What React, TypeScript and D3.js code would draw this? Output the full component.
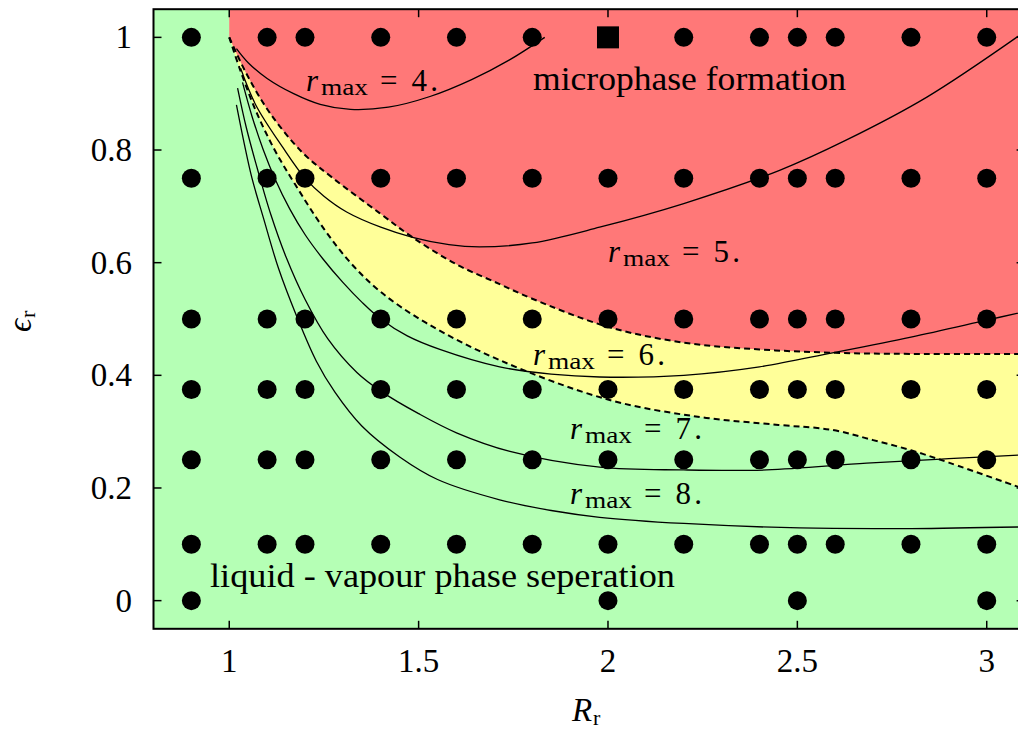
import React from 'react';
import * as d3 from 'd3';

// simulated state points (R_r, eps_r)
const simR = [0.9, 1.1, 1.2, 1.4, 1.6, 1.8, 2.0, 2.2, 2.4, 2.5, 2.6, 2.8, 3.0];
const simEps = [1.0, 0.75, 0.5, 0.375, 0.25, 0.1];
const zeroRowR = [0.9, 2.0, 2.5, 3.0];
const squarePoint = [2.0, 1.0];

// phase boundaries (dashed)
const microBoundary = [
  [1.0, 1.0], [1.045, 0.936], [1.107, 0.866], [1.194, 0.795], [1.274, 0.75], [1.397, 0.688],
  [1.484, 0.645], [1.6, 0.597], [1.714, 0.562], [1.8, 0.536], [2.0, 0.486], [2.2, 0.458],
  [2.4, 0.446], [2.6, 0.44], [2.8, 0.438], [3.1, 0.438],
];
const liquidBoundary = [
  [1.0, 1.0], [1.03, 0.94], [1.07, 0.87], [1.12, 0.8], [1.173, 0.74], [1.25, 0.66],
  [1.32, 0.6], [1.4, 0.548], [1.52, 0.493], [1.714, 0.427], [2.0, 0.357], [2.242, 0.326],
  [2.45, 0.312], [2.593, 0.303], [2.7, 0.285], [2.8, 0.267], [2.9, 0.245], [3.1, 0.198],
];

// r_max contour lines
const rmax4 = [
  [1.019, 0.98], [1.05, 0.955], [1.1, 0.927], [1.17, 0.9], [1.24, 0.881], [1.32, 0.872],
  [1.42, 0.876], [1.53, 0.895], [1.64, 0.925], [1.74, 0.96], [1.833, 1.0],
];
const rmax5 = [
  [1.03, 0.945], [1.07, 0.88], [1.141, 0.805], [1.2, 0.75], [1.25, 0.718], [1.31, 0.69],
  [1.4, 0.663], [1.484, 0.645], [1.58, 0.632], [1.661, 0.628], [1.8, 0.635], [1.978, 0.663],
  [2.2, 0.705], [2.453, 0.764], [2.63, 0.818], [2.842, 0.894], [3.1, 1.01],
];
const rmax6 = [
  [1.035, 0.92], [1.06, 0.86], [1.09, 0.8], [1.12, 0.75], [1.16, 0.695], [1.2, 0.65],
  [1.247, 0.607], [1.3, 0.565], [1.35, 0.53], [1.4, 0.5], [1.47, 0.47], [1.556, 0.446],
  [1.714, 0.415], [1.85, 0.402], [1.978, 0.397], [2.2, 0.4], [2.4, 0.415], [2.593, 0.44],
  [2.8, 0.468], [3.0, 0.498], [3.1, 0.513],
];
const rmax7 = [
  [1.022, 0.91], [1.045, 0.84], [1.075, 0.765], [1.11, 0.685], [1.15, 0.61], [1.2, 0.535],
  [1.26, 0.465], [1.337, 0.405], [1.4, 0.372], [1.5, 0.332], [1.6, 0.298], [1.741, 0.265],
  [1.978, 0.237], [2.2, 0.232], [2.419, 0.232], [2.683, 0.244], [2.9, 0.252], [3.1, 0.259],
];
const rmax8 = [
  [1.019, 0.88], [1.04, 0.81], [1.06, 0.75], [1.09, 0.68], [1.13, 0.59], [1.178, 0.505],
  [1.23, 0.425], [1.279, 0.37], [1.35, 0.31], [1.45, 0.255], [1.55, 0.215], [1.714, 0.179],
  [1.85, 0.16], [1.978, 0.148], [2.2, 0.137], [2.506, 0.129], [2.8, 0.128], [3.1, 0.131],
];

const xTicks = [1, 1.5, 2, 2.5, 3];
const yTicks = [0, 0.2, 0.4, 0.6, 0.8, 1];

const rmaxLabels = [
  { value: '4.', x: 306, y: 91 },
  { value: '5.', x: 608, y: 262 },
  { value: '6.', x: 533, y: 365 },
  { value: '7.', x: 570, y: 439 },
  { value: '8.', x: 570, y: 504 },
];

const FONT = "'Liberation Serif', 'Times New Roman', Times, 'DejaVu Serif', serif";

const App = () => {
  const x = d3.scaleLinear().domain([0.8, 3.1]).range([153.5, 1024.6]);
  const y = d3.scaleLinear().domain([-0.05, 1.05]).range([628.8, 9.2]);
  const [x0, x1] = x.range();
  const [y0, y1] = y.range();

  const line = d3.line<number[]>()
    .x(d => x(d[0]))
    .y(d => y(d[1]))
    .curve(d3.curveCatmullRom);

  const upperPath = line(microBoundary) as string;
  const lowerRev = (line([...liquidBoundary].reverse()) as string).replace(/^M/, 'L');
  const redPath = `${upperPath}L${x(3.1)},${y(1.05)}L${x(1)},${y(1.05)}Z`;
  const yellowPath = `${upperPath}${lowerRev}Z`;

  const dots: number[][] = [];
  simEps.forEach(e => simR.forEach(r => {
    if (!(r === squarePoint[0] && e === squarePoint[1])) dots.push([r, e]);
  }));
  zeroRowR.forEach(r => dots.push([r, 0]));

  const sq = 22;

  return (
    <svg width={1018} height={730}
      style={{ position: 'absolute', left: 0, top: 0, background: '#fff', fontFamily: FONT }}>
      <defs>
        <clipPath id="plotClip">
          <rect x={x0} y={y1} width={x1 - x0} height={y0 - y1} />
        </clipPath>
      </defs>

      <g clipPath="url(#plotClip)">
        <rect x={x0} y={y1} width={x1 - x0} height={y0 - y1} fill="#b5ffb5" />
        <path d={yellowPath} fill="#ffff99" />
        <path d={redPath} fill="#ff7878" />

        {[rmax4, rmax5, rmax6, rmax7, rmax8].map((c, i) => (
          <path key={i} d={line(c) as string} fill="none" stroke="#000" strokeWidth={1.3} />
        ))}
        <path d={upperPath} fill="none" stroke="#000" strokeWidth={2} strokeDasharray="6,4" />
        <path d={line(liquidBoundary) as string} fill="none" stroke="#000" strokeWidth={2} strokeDasharray="6,4" />

        {dots.map((d, i) => (
          <circle key={i} cx={x(d[0])} cy={y(d[1])} r={9.5} fill="#000" />
        ))}
        <rect x={x(squarePoint[0]) - sq / 2} y={y(squarePoint[1]) - sq / 2} width={sq} height={sq} fill="#000" />
      </g>

      {/* frame and ticks */}
      <rect x={x0} y={y1} width={x1 - x0} height={y0 - y1} fill="none" stroke="#000" strokeWidth={2} />
      {xTicks.map(t => (
        <g key={'x' + t}>
          <line x1={x(t)} x2={x(t)} y1={y0} y2={y0 - 8} stroke="#000" strokeWidth={1.5} />
          <line x1={x(t)} x2={x(t)} y1={y1} y2={y1 + 8} stroke="#000" strokeWidth={1.5} />
          <text x={x(t)} y={672} textAnchor="middle" fontSize={33}>{String(t)}</text>
        </g>
      ))}
      {yTicks.map(t => (
        <g key={'y' + t}>
          <line x1={x0} x2={x0 + 8} y1={y(t)} y2={y(t)} stroke="#000" strokeWidth={1.5} />
          <line x1={x1} x2={x1 - 8} y1={y(t)} y2={y(t)} stroke="#000" strokeWidth={1.5} />
          <text x={132} y={y(t) + 11} textAnchor="end" fontSize={33}>{String(t)}</text>
        </g>
      ))}

      {/* axis titles */}
      <text x={572} y={721} fontSize={33} fontStyle="italic">R</text>
      <text x={593} y={725} fontSize={22}>r</text>
      <g transform="translate(31,332) rotate(-90)">
        <text x={0} y={0} fontSize={33} fontStyle="italic">ϵ</text>
        <text x={14} y={4} fontSize={22}>r</text>
      </g>

      {/* region labels */}
      <text x={533} y={90} fontSize={34} textLength={313} lengthAdjust="spacingAndGlyphs">microphase formation</text>
      <text x={210} y={587} fontSize={34} textLength={465} lengthAdjust="spacingAndGlyphs">liquid - vapour phase seperation</text>

      {rmaxLabels.map(l => (
        <g key={l.value}>
          <text x={l.x} y={l.y} fontSize={31} fontStyle="italic">r</text>
          <text x={l.x + 15} y={l.y + 4} fontSize={24} textLength={47} lengthAdjust="spacingAndGlyphs">max</text>
          <text x={l.x + 74} y={l.y} fontSize={31} textLength={58} lengthAdjust="spacing">{'= ' + l.value}</text>
        </g>
      ))}
    </svg>
  );
};

export default App;
